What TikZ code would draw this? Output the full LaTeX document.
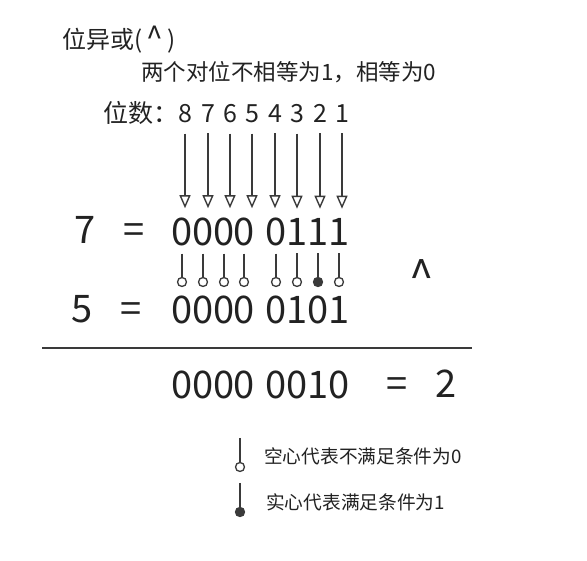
\documentclass[tikz,border=0pt]{standalone}
\usepackage{fontspec}
\setmainfont{Noto Sans CJK SC}
\usetikzlibrary{arrows.meta}
\definecolor{ink}{HTML}{222222}
\definecolor{wire}{HTML}{3A3A3A}

\begin{document}
\begin{tikzpicture}[x=1pt, y=1pt,
txt/.style={inner sep=0, text=ink, anchor=base west},
bit/.style={inner sep=0, text=ink, anchor=base, font=\fontsize{38}{38}\selectfont},
posdigit/.style={inner sep=0, text=ink, anchor=base, font=\fontsize{25}{25}\selectfont},
bitarrow/.style={draw=wire, line width=1.4pt, -{Triangle[open, length=13pt, width=11pt]}, shorten <=10pt, shorten >=10pt},
pinline/.style={draw=wire, line width=1.4pt, shorten <=7pt},
hollowdot/.style={circle, draw=wire, line width=1.3pt, fill=white, inner sep=0, minimum size=9pt},
soliddot/.style={hollowdot, fill=wire}]

\useasboundingbox (0,0) rectangle (587,-561);

% headings
\node[txt, font=\fontsize{24}{24}\selectfont] (title) at (62,-49) {位异或(\hspace{4pt}{\fontsize{30}{30}\selectfont\textasciicircum}\hspace{5pt})};
\node[txt, font=\fontsize{22.5}{22.5}\selectfont] (rule) at (141,-81) {两个对位不相等为1，相等为0};
\node[txt, font=\fontsize{25}{25}\selectfont] (poslabel) at (103,-123) {位数：};

\foreach \n/\x in {8/185, 7/208, 6/230, 5/252, 4/275, 3/297, 2/320, 1/342}
  \node[posdigit] (p\n) at (\x,-123) {\n};

% operands and result
\node[bit] (seven) at (85,-244) {7};
\node[bit] (eqa) at (134,-244) {=};
\node[bit] (five) at (82,-323) {5};
\node[bit] (eqb) at (131,-323) {=};

\foreach \n/\x/\ba/\bb/\br in {8/182/0/0/0, 7/203/0/0/0, 6/224/0/0/0, 5/244/0/0/0,
  4/276/0/0/0, 3/297/1/1/0, 2/318/1/0/1, 1/339/1/1/0}{
  \node[bit] (a\n) at (\x,-246) {\ba};
  \node[bit] (b\n) at (\x,-324) {\bb};
  \node[bit] (r\n) at (\x,-399) {\br};
}

\node[bit, font=\fontsize{44}{44}\selectfont] (xor) at (422,-293) {\textasciicircum};
\draw[draw=wire, line width=1.5pt] (42,-348) -- (472,-348);
\node[bit] (eqc) at (397,-398) {=};
\node[bit] (two) at (446,-398) {2};

% arrows from bit positions
\foreach \n in {8,...,1}
  \draw[bitarrow] (p\n.south) -- (p\n.south |- a\n.north);

% pins
\foreach \n/\dot in {8/hollowdot, 7/hollowdot, 6/hollowdot, 5/hollowdot, 4/hollowdot, 3/hollowdot, 2/soliddot, 1/hollowdot}{
  \node[\dot] (c\n) at (a\n.south |- 0,-282) {};
  \draw[pinline] (a\n.south) -- (c\n.north);
}

% key
\node[hollowdot] (keyzero) at (240,-467) {};
\coordinate (keyzerotop) at (240,-438);
\draw[pinline, shorten <=0pt] (keyzerotop) -- (keyzero.north);
\node[txt, font=\fontsize{18.7}{18.7}\selectfont] (keyzerotext) at (264,-464) {空心代表不满足条件为0};

\node[soliddot] (keyone) at (240,-512) {};
\coordinate (keyonetop) at (240,-483);
\draw[pinline, shorten <=0pt] (keyonetop) -- (keyone.north);
\node[txt, font=\fontsize{18.7}{18.7}\selectfont] (keyonetext) at (266,-510) {实心代表满足条件为1};

\end{tikzpicture}
\end{document}
